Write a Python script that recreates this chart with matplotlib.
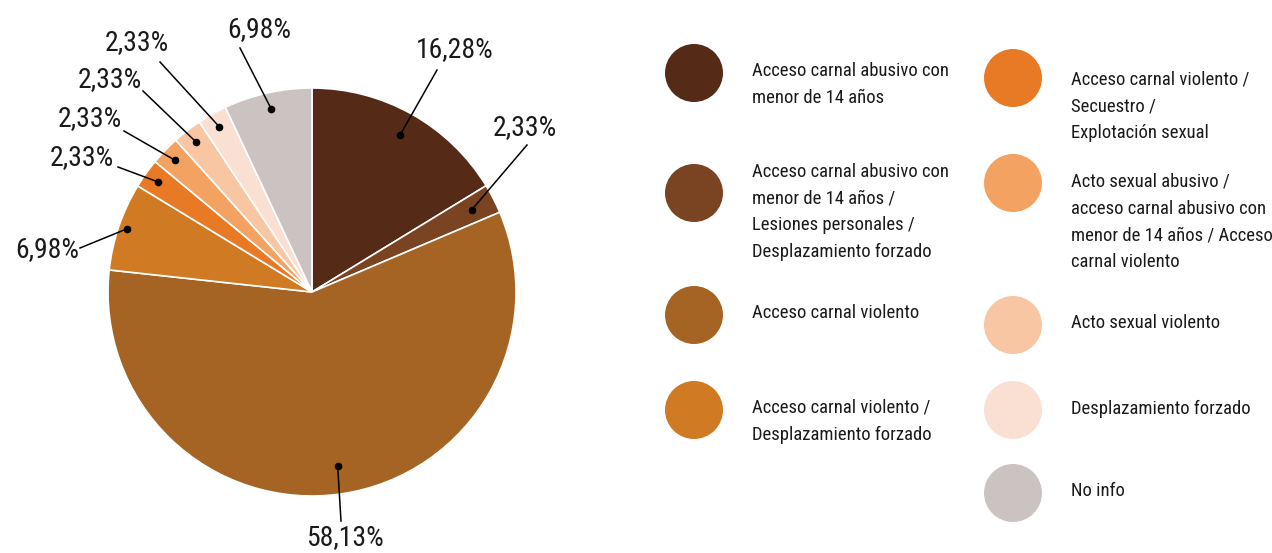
import numpy as np
import matplotlib
import matplotlib.pyplot as plt
from matplotlib import font_manager
from matplotlib.patches import Circle

matplotlib.use('Agg')

# Categories, shares and colours (same order in pie and legend)
categorias = [
    "Acceso carnal abusivo con\nmenor de 14 años",
    "Acceso carnal abusivo con\nmenor de 14 años /\nLesiones personales /\nDesplazamiento forzado",
    "Acceso carnal violento",
    "Acceso carnal violento /\nDesplazamiento forzado",
    "Acceso carnal violento /\nSecuestro /\nExplotación sexual",
    "Acto sexual abusivo /\nacceso carnal abusivo con\nmenor de 14 años / Acceso\ncarnal violento",
    "Acto sexual violento",
    "Desplazamiento forzado",
    "No info",
]
porcentajes = [16.28, 2.33, 58.13, 6.98, 2.33, 2.33, 2.33, 2.33, 6.98]
colores = ['#552b18', '#7a4321', '#a66424', '#d07a23', '#e87a25',
           '#f3a261', '#f8c6a2', '#fadfd3', '#cbc3c1']

# pick a narrow face if one is installed
nombres = {f.name: f for f in font_manager.fontManager.ttflist}
familia, estiramiento = 'DejaVu Sans', 'normal'
for cand in ['Liberation Sans Narrow', 'Roboto Condensed', 'Open Sans Condensed', 'Noto Sans Condensed']:
    if cand in nombres:
        familia = cand
        break
else:
    for f in font_manager.fontManager.ttflist:
        if f.stretch in ('condensed', 'semi-condensed', 'extra-condensed') and f.name in ('DejaVu Sans', 'Roboto', 'Noto Sans', 'Open Sans', 'Liberation Sans', 'Inter', 'Lato'):
            familia, estiramiento = f.name, f.stretch
            break

W, H = 1272, 553
fig = plt.figure(figsize=(W / 100, H / 100), dpi=100)
ax = fig.add_axes([0, 0, 1, 1])

cx, cy, R = 312, 261, 204
wedges, _ = ax.pie(porcentajes, colors=colores, startangle=90, counterclock=False,
                   center=(cx, cy), radius=R,
                   wedgeprops=dict(edgecolor='white', linewidth=1.2))
ax.set_xlim(0, W)
ax.set_ylim(0, H)
ax.set_aspect('equal')
ax.axis('off')

# leader lines: dot radius (fraction of R), label position and line end (pixels from centre)
radio_punto = [0.88, 0.88, 0.86, 0.96, 0.93, 0.93, 0.93, 0.93, 0.92]
pos_texto = [(143, 242), (213, 164), (33, -246), (-265, 42), (-230, 134),
             (-222, 173), (-202, 212), (-175, 249), (-53, 262)]
extremo = [(125, 222), (215, 147), (29, -229), (-232, 44), (-194, 125),
           (-188, 161), (-169, 201), (-152, 230), (-72, 244)]

for w, p, rp, (tx, ty), (ex, ey) in zip(wedges, porcentajes, radio_punto, pos_texto, extremo):
    ang = np.deg2rad((w.theta1 + w.theta2) / 2)
    px, py = cx + rp * R * np.cos(ang), cy + rp * R * np.sin(ang)
    ax.plot([px, cx + ex], [py, cy + ey], color='black', lw=1.1)
    ax.plot(px, py, 'o', color='black', ms=4.5)
    ax.text(cx + tx, cy + ty, f"{p:.2f}%".replace('.', ','), ha='center', va='center',
            fontsize=20, family=familia, stretch=estiramiento, color='#1a1a1a')

# legend in two columns: circle centre y and first text line y (pixels from top)
col_x = [694, 1013]
filas = [(0, 73, 71), (0, 193, 172), (0, 315, 313), (0, 410, 408),
         (1, 78, 80), (1, 183, 182), (1, 325, 323), (1, 410, 409), (1, 493, 491)]
for texto, color, (c, yc, yt) in zip(categorias, colores, filas):
    ax.add_patch(Circle((col_x[c], H - yc), 29, color=color, lw=0))
    ax.text(col_x[c] + 58, H - yt + 9, texto, ha='left', va='top', fontsize=13.4,
            family=familia, stretch=estiramiento, color='#1a1a1a', linespacing=1.62)

fig.savefig('out.png', dpi=100)
